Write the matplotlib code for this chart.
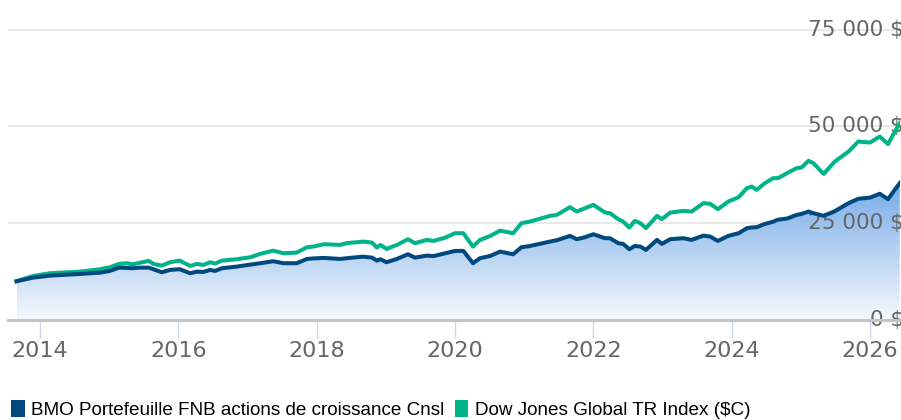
import numpy as np
import matplotlib.pyplot as plt
from matplotlib.colors import LinearSegmentedColormap
from matplotlib.patches import Patch

# decimal years
years = [2013.66, 2013.90, 2014.14, 2014.58, 2014.87, 2015.01, 2015.14, 2015.25,
         2015.34, 2015.45, 2015.57, 2015.64, 2015.76, 2015.88, 2016.02, 2016.17,
         2016.27, 2016.36, 2016.46, 2016.53, 2016.63, 2016.84, 2017.04, 2017.18,
         2017.37, 2017.52, 2017.71, 2017.86, 2017.95, 2018.10, 2018.34, 2018.43,
         2018.67, 2018.80, 2018.87, 2018.92, 2019.01, 2019.16, 2019.32, 2019.42,
         2019.59, 2019.69, 2019.86, 2020.00, 2020.12, 2020.26, 2020.36, 2020.51,
         2020.65, 2020.84, 2020.96, 2021.08, 2021.37, 2021.47, 2021.54, 2021.66,
         2021.76, 2021.88, 2022.00, 2022.17, 2022.24, 2022.36, 2022.43, 2022.52,
         2022.60, 2022.68, 2022.76, 2022.92, 2022.99, 2023.11, 2023.30, 2023.42,
         2023.59, 2023.69, 2023.80, 2023.95, 2024.10, 2024.22, 2024.29, 2024.36,
         2024.48, 2024.60, 2024.67, 2024.80, 2024.94, 2025.01, 2025.11, 2025.18,
         2025.33, 2025.49, 2025.69, 2025.83, 2026.00, 2026.14, 2026.26, 2026.36,
         2026.43]

bmo = [10000, 10940, 11450, 11890, 12230, 12670, 13520, 13450,
       13370, 13520, 13520, 13100, 12330, 12930, 13110, 12070,
       12490, 12410, 12930, 12670, 13370, 13780, 14300, 14650,
       15170, 14660, 14660, 15770, 15900, 16030, 15770, 15950,
       16360, 16110, 15330, 15690, 14920, 15770, 16980, 16110,
       16620, 16500, 17240, 17840, 17840, 14660, 15950, 16540,
       17660, 16980, 18790, 19100, 20240, 20600, 21000, 21710,
       20860, 21380, 22150, 21120, 21120, 19830, 19650, 18280,
       19130, 18950, 18100, 20680, 19650, 20860, 21120, 20680,
       21790, 21530, 20420, 21710, 22410, 23710, 23900, 23960,
       24800, 25400, 25900, 26200, 27140, 27400, 28000, 27580,
       26900, 28100, 30170, 31300, 31610, 32600, 31200, 33700,
       35340]

djg = [10000, 11370, 12070, 12490, 13110, 13620, 14480, 14660,
       14400, 14810, 15250, 14480, 14040, 14920, 15330, 13960,
       14480, 14220, 14920, 14550, 15330, 15690, 16210, 17060,
       17910, 17240, 17400, 18790, 18950, 19570, 19390, 19830,
       20240, 19980, 18690, 19390, 18350, 19390, 20860, 19830,
       20680, 20420, 21280, 22410, 22410, 18950, 20680, 21710,
       23080, 22410, 25000, 25410, 26880, 27140, 27840, 29130,
       28000, 28880, 29730, 27740, 27580, 26030, 25410, 23860,
       25590, 25000, 23710, 26880, 26030, 27740, 28180, 28000,
       30170, 29990, 28620, 30580, 31720, 34050, 34460, 33610,
       35340, 36630, 36630, 37920, 39220, 39370, 41100, 40510,
       37740, 40920, 43510, 46090, 45830, 47380, 45420, 48680,
       50850]

year_ticks = [2014, 2016, 2018, 2020, 2022, 2024, 2026]
value_ticks = [0, 25000, 50000, 75000]
value_labels = ['0 $', '25 000 $', '50 000 $', '75 000 $']
series_names = ['BMO Portefeuille FNB actions de croissance Cnsl',
                'Dow Jones Global TR Index ($C)']

blue = '#00497f'
green = '#00b389'

fig = plt.figure(figsize=(9.01, 4.2), dpi=100)
ax = fig.add_axes([8 / 901, 100 / 420, 892 / 901, 309.8 / 420])

# gradient area under the BMO line
area = ax.fill_between(years, bmo, 0, color='none', lw=0)
cmap = LinearSegmentedColormap.from_list('area', ['#f6f9fd', '#76abe8'])
grad = np.linspace(0, 1, 256).reshape(-1, 1)
img = ax.imshow(grad, cmap=cmap, aspect='auto', origin='lower',
                extent=[years[0], years[-1], 0, max(bmo)], zorder=1)
img.set_clip_path(area.get_paths()[0], transform=ax.transData)

ax.plot(years, djg, color=green, lw=2.9, zorder=3, solid_joinstyle='round')
ax.plot(years, bmo, color=blue, lw=2.9, zorder=3, solid_joinstyle='round')

ax.set_xlim(2013.537, 2026.433)
ax.set_ylim(0, 80000)

ax.set_yticks(value_ticks)
ax.yaxis.grid(True, color='#e6e6e6', lw=1.3)
ax.set_axisbelow(True)
ax.tick_params(axis='y', length=0, labelleft=False)
for v, lab in zip(value_ticks, value_labels):
    ax.text(1.0045, v, lab, transform=ax.get_yaxis_transform(), ha='right',
            va='center', fontsize=15.5, color='#666666', zorder=2,
            clip_on=False)

ax.set_xticks(year_ticks)
ax.set_xticklabels([str(y) for y in year_ticks])
ax.tick_params(axis='x', direction='out', length=13, width=1, color='#ccd6eb',
               pad=2, labelsize=16, labelcolor='#666666')

for side in ['top', 'left', 'right']:
    ax.spines[side].set_visible(False)
ax.spines['bottom'].set_color('#c4c4c4')
ax.spines['bottom'].set_linewidth(2.2)
ax.spines['bottom'].set_zorder(4)

handles = [Patch(facecolor=blue, edgecolor='none'),
           Patch(facecolor=green, edgecolor='none')]
fig.legend(handles, series_names, loc='lower left', bbox_to_anchor=(0.0, -0.025),
           ncol=2, frameon=False, handlelength=0.7, handleheight=1.0,
           handletextpad=0.35, columnspacing=0.55, borderaxespad=0.2,
           prop={'family': 'Liberation Sans', 'size': 13.6})

fig.savefig('out.png', dpi=100)
